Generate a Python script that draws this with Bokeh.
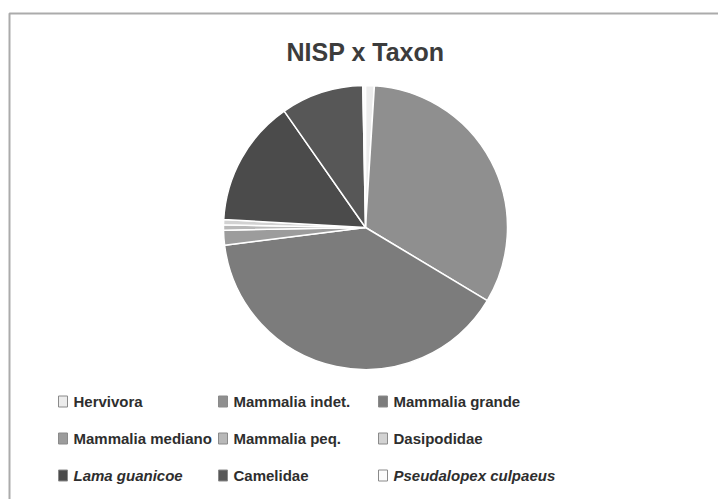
import numpy as np
from bokeh.plotting import figure
from bokeh.models import Range1d, ColumnDataSource
from bokeh.core.properties import value
from bokeh.embed import file_html
from bokeh.resources import INLINE

# ---- data ----
taxa = ["Hervivora", "Mammalia indet.", "Mammalia grande",
        "Mammalia mediano", "Mammalia peq.", "Dasipodidae",
        "Lama guanicoe", "Camelidae", "Pseudalopex culpaeus"]
pct = [1.0, 32.6, 39.4, 1.7, 0.6, 0.6, 14.4, 9.4, 0.3]
colors = ["#ececec", "#8f8f8f", "#7c7c7c", "#9c9c9c", "#b8b8b8",
          "#d2d2d2", "#4b4b4b", "#575757", "#fbfbfb"]
italic = [False, False, False, False, False, False, True, False, True]
title = "NISP x Taxon"

W, H = 718, 499
p = figure(width=W, height=H, output_backend="svg", toolbar_location=None,
           x_range=Range1d(0, W), y_range=Range1d(0, H), min_border=0)
p.axis.visible = False
p.grid.visible = False
p.outline_line_color = None
p.background_fill_color = "white"
p.border_fill_color = "white"

# frame border (left and top)
p.line([9, 9, W], [0, H - 13, H - 13], line_color="#ababab", line_width=2)

# pie
cx, cy, r = 365, H - 227, 142
vals = np.array(pct, dtype=float)
frac = vals / vals.sum()
cum = np.concatenate([[0], np.cumsum(frac)]) * 2 * np.pi
start = np.pi / 2 - cum[:-1]
end = np.pi / 2 - cum[1:]
src = ColumnDataSource(dict(start=start, end=end, color=colors, taxon=taxa))
p.wedge(x=cx, y=cy, radius=r, start_angle="start", end_angle="end",
        direction="clock", fill_color="color", line_color="white",
        line_width=1.5, source=src)

# title
p.text(x=[365], y=[H - 51], text=[title], text_font=value("Liberation Sans"),
       text_font_style="bold", text_font_size="25px", text_color="#3c3c3c",
       text_align="center", text_baseline="middle")

# legend
col_x = [58, 218, 378]
row_y = [401, 438, 475]
sx, sy, tx, ty = [], [], [], []
for i, t in enumerate(taxa):
    c, rw = i % 3, i // 3
    sx.append(col_x[c] + 4.5)
    sy.append(H - row_y[rw])
    tx.append(col_x[c] + 15)
    ty.append(H - row_y[rw])
p.rect(x=sx, y=sy, width=9, height=11, fill_color=colors,
       line_color="#8a8a8a", line_width=1)
for i, t in enumerate(taxa):
    p.text(x=[tx[i]], y=[ty[i]], text=[t], text_font=value("Liberation Sans"),
           text_font_style="bold italic" if italic[i] else "bold",
           text_font_size="15px", text_color="#2e2e2e",
           text_align="left", text_baseline="middle")

open("out.html", "w").write(file_html(p, INLINE))
